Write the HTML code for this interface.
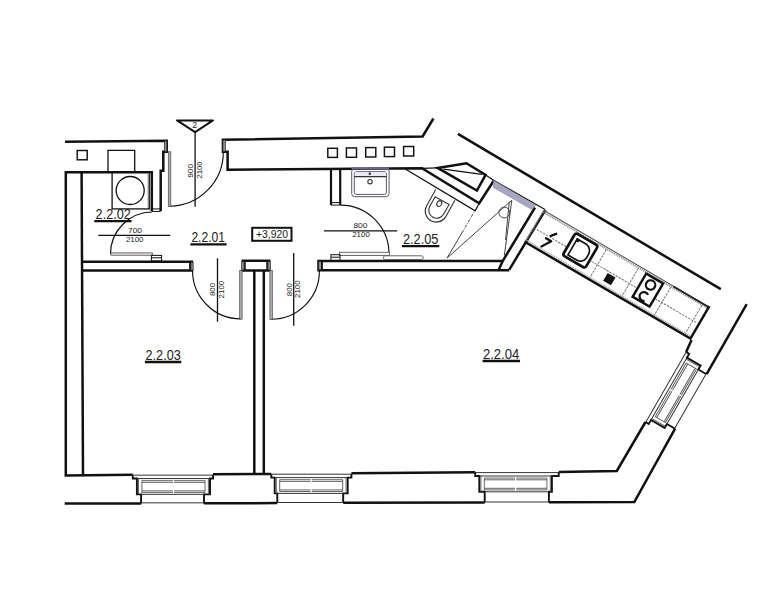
<!DOCTYPE html>
<html><head><meta charset="utf-8"><title>Floor plan</title>
<style>
html,body{margin:0;padding:0;background:#fff;}
body{width:778px;height:599px;overflow:hidden;}
svg{display:block;}
text{font-family:"Liberation Sans",sans-serif;fill:#222;stroke:none;}
</style></head>
<body>
<svg width="778" height="599" viewBox="0 0 778 599">
<rect x="0" y="0" width="778" height="599" fill="#fff"/>
<g fill="none" stroke="#111" stroke-linejoin="miter" stroke-linecap="butt">
<g stroke-width="2.5">
  <path d="M65,141.8 L166.7,140.8 V151.7 H163.3 V170.8 H160.7 V211"/>
    <path d="M81.6,172.2 L83,475"/>
  <path d="M433.4,118.5 L422.6,136.5 L222.9,139.7 V151.7 H227.6 V169.8 L422,168.3 L479.2,203.2 L493.7,180.7"/>
  <path d="M457.9,133.9 L720.8,289.2"/>
  <path d="M746.7,304.2 L706.6,374.1"/>
  <path d="M675.1,428.7 L634.3,502 L548.9,502.3"/>
  <path d="M645.5,422 L616.8,471 L558.7,471.9"/>
  <path d="M686.1,352 L691.5,340"/>
  <path d="M151.8,211 V172.2 H65.8 V475.5 L132.8,474.85"/>
  <path d="M213,474.2 L271.3,473.9"/>
  <path d="M351.4,473.3 L475.2,472.3"/>
  <path d="M64.7,503.6 L141.1,503.45"/>
  <path d="M204,503.3 L277.3,503.1"/>
  <path d="M343.2,502.75 L484.7,502.6"/>
  <path d="M82.5,261.7 H193.1 M82.5,270.6 H193.1"/>
  <path d="M190.2,261.7 V270.6" stroke-width="2.2"/>
  <path d="M241.6,260.8 H270.4 M241.6,270.5 H270.4"/>
  <path d="M244.6,260.8 V270.5 M267.4,260.8 V270.5" stroke-width="2.2"/>
  <path d="M254.3,270.6 V474"/>
  <path d="M263.8,270.6 V474"/>
  <path d="M502.7,261 H318.5 V270.2 H509.2"/>
  <path d="M535,207.5 L502.7,261 L498.7,269.8"/>
  <path d="M545.3,210 L509.2,269.8"/>
  <path d="M437.6,167.9 L466.5,163.3 L485.6,174.9 L476.9,190.5 Z"/>
</g>
<g fill="#999" stroke="#222" stroke-width="0.8">
  <rect x="164.6" y="141" width="2.2" height="10.7"/>
  <rect x="222.9" y="140" width="2.4" height="11.5"/>
  <rect x="190.9" y="262.2" width="2.2" height="8"/>
  <rect x="241.7" y="261.4" width="2.4" height="8.6"/>
  <rect x="267.9" y="261.4" width="2.4" height="8.6"/>
  <rect x="318.7" y="261.5" width="2.8" height="8.3"/>
  <path d="M322,261 V270.2" stroke-width="1.8" fill="none" stroke="#111"/>
</g>
<g stroke-width="1.15">
  <path d="M169.5,206.3 A54.3,54.3 0 0 0 223.3,152"/>
  <path d="M152,212 A42,42 0 0 0 110.5,254"/>
  <path d="M192.5,270.6 A48.3,48.3 0 0 0 240.8,318.9"/>
  <path d="M271.2,319.2 A48.2,48.2 0 0 0 319.4,271"/>
  <path d="M340.4,205.1 A48.5,48.5 0 0 1 389,252.3"/>
</g>
<g stroke-width="0.7" stroke="#444" fill="#b0b0b0">
  <rect x="168.3" y="151.8" width="2.5" height="54.8"/>
  <rect x="110.8" y="252.9" width="41.5" height="2.3" fill="#e8e8e8" stroke="#333"/>
  <rect x="239.7" y="270.6" width="2.4" height="48.5"/>
  <rect x="269.9" y="270.6" width="2.4" height="48.8"/>
  <rect x="339.3" y="252.2" width="50" height="3.2" fill="#f4f4f4" stroke="#333"/>
</g>
<g stroke-width="2.2">
  <path d="M331,169.3 V205.1 M340.2,169.3 V205.1"/>
</g>
<g stroke-width="1">
  <path d="M331,202.6 H340.2 M331,205.1 H340.2"/>
  <path d="M151.8,208.9 H160.7 M151.8,211.4 H160.7"/>
  <rect x="151.4" y="255.4" width="10.2" height="5.6"/>
  <rect x="330.9" y="254.7" width="9.1" height="5.8"/>
  <path d="M151.4,257.8 H161.6 M330.9,257.2 H340"/>
</g>
<g stroke-width="1.3">
  <path d="M195.1,132 V206.7"/>
  <path d="M98.3,235.3 H170.3"/>
  <path d="M217.5,258.3 V321.7"/>
  <path d="M293.7,253 V325.8"/>
  <path d="M323.9,230.8 H397.2"/>
</g>
<g stroke-width="2">
  <path stroke-linejoin="round" d="M177,120.4 H213 L195.1,132.1 Z"/>
  <rect x="252.2" y="227.8" width="39.3" height="13"/>
</g>
<g stroke-width="1.45">
  <rect x="77.2" y="150.5" width="10" height="9.3"/>
  <rect x="327.8" y="148.3" width="9.6" height="9.1"/>
  <rect x="346.4" y="147.9" width="10.1" height="9.4"/>
  <rect x="365.7" y="147.6" width="10.1" height="9.4"/>
  <rect x="384.4" y="147.2" width="10.1" height="9.4"/>
  <rect x="403.6" y="146.5" width="10.1" height="9.5"/>
</g>
<g stroke-width="1.3">
  <path d="M108,172.2 V150.3 H134.7 V172.2"/>
  <rect x="112.1" y="172.2" width="37.2" height="36.7"/>
  <circle cx="130.2" cy="190.5" r="14"/>
</g>
<path stroke="#888" stroke-width="1.5" d="M148.4,173 V208"/>
<g stroke-width="1.2">
  <path d="M405.3,169 L475.2,210.8 L479.2,203.2"/>
  <path d="M422,168.3 L437.6,167.9"/>
  <path d="M443.4,169.1 L482.1,174.3"/>
  <path d="M485.6,174.9 L494,180.6 L545,209.4"/>
</g>
<polygon points="493.5,180.6 535.8,205.2 531.9,209.6 493.5,187.4" fill="#a8a7c2" stroke="#8a88a8" stroke-width="0.6"/>
<g stroke="#444" stroke-width="1">
  <path d="M511.8,200.3 L447,258.1"/>
  <path d="M447,258.1 L462,232.8"/>
  <path d="M462,232.8 L474.5,211.4" stroke-dasharray="3 1.2 0.8 1.2"/>
  <path d="M511.8,200.3 L504.3,255.7"/>
  <path d="M509.3,201.5 L505.5,240"/>
  <circle cx="504.3" cy="212.5" r="5.4"/>
</g>
<!-- sink -->
<g stroke="#5a5a6a" stroke-width="1">
  <rect x="351.7" y="168.3" width="37.4" height="28.4" rx="3"/>
  <rect x="354.3" y="171.7" width="32.1" height="22.7" rx="2" fill="#fff"/>
  <rect x="354.8" y="172.2" width="31.1" height="4.3" fill="#ece8f4" stroke="none"/>
  <path d="M354.3,176.7 H386.4" stroke="#333" stroke-width="1.2"/>
  <circle cx="370" cy="181.7" r="2.2" stroke="#333" stroke-width="1.1"/>
  <path d="M369.8,172.5 V175" stroke="#333" stroke-width="2"/>
</g>
<path d="M351.7,168.6 H389.1" stroke="#6a6890" stroke-width="2"/>
<!-- toilet -->
<g transform="translate(445.05,195.35) rotate(29.2)" stroke="#333" stroke-width="1.1">
  <path d="M-11,-0.5 V18 A11,11 0 0 0 11,18 V-0.5"/>
  <path d="M-8,6 V17 A8,8 0 0 0 8,17 V6 Z"/>
  <ellipse cx="-1" cy="10" rx="2.3" ry="3"/>
</g>
<!-- radiator -->
<rect x="383.3" y="255.8" width="40" height="3.7" rx="1.8" stroke="#666" stroke-width="1"/>
<g transform="translate(544.2,210.3) rotate(30.3)">
  <path d="M0,0.3 H191" stroke="#555" stroke-width="1.1"/>
  <path d="M0,2.1 H191" stroke="#888" stroke-width="1.6" stroke-dasharray="1.2 0.8"/>
  <path d="M150,0.6 H191" stroke="#222" stroke-width="1.8"/>
  <path d="M-0.3,0 V37" stroke="#888" stroke-width="1.6" stroke-dasharray="1.2 0.8"/>
  <path d="M0,34.8 H189" stroke="#999" stroke-width="1.2" stroke-dasharray="1.2 0.8"/>
  <path d="M0,20.3 H189" stroke="#777" stroke-width="1" stroke-dasharray="2.5 1"/>
  <path d="M73.5,2.5 V35 M110.5,2.5 V35 M148,2.5 V35 M184,2.5 V35" stroke="#777" stroke-width="1" stroke-dasharray="2.5 1"/>
  <path d="M-1,37 H191 V-0.5" stroke="#111" stroke-width="2.5"/>
  <rect x="38.5" y="3.6" width="26" height="25.8" rx="2.5" stroke="#111" stroke-width="2.7" fill="#fff"/>
  <path d="M43,8 H53.5 A8,8 0 0 1 60.5,16 V20 A7,7 0 0 1 53.5,26.5 H43 Z" stroke="#111" stroke-width="1.7"/>
  <circle cx="44" cy="9" r="1.8" fill="#111" stroke="none"/>
  <rect x="86.4" y="22" width="9" height="9" fill="#111" stroke="none"/>
  <rect x="120" y="3.2" width="19.6" height="26.8" stroke="#111" stroke-width="2.5" fill="#fff"/>
  <circle cx="129.5" cy="10.8" r="4.7" stroke="#111" stroke-width="2.2"/>
  <path d="M132.3,20.6 A4.4,4.4 0 1 0 132.3,27.6" stroke="#111" stroke-width="2.2"/>
</g>
<path d="M550.8,235.8 L556.2,233.8 M546,238.2 L551.2,241.2 L541.4,246.4" stroke="#111" stroke-width="2.3" stroke-linecap="round" stroke-linejoin="round"/>
<g font-size="14" fill="#2a2a2a">
  <text x="95.6" y="219.2" textLength="35.2" lengthAdjust="spacingAndGlyphs">2.2.02</text>
  <text x="191.4" y="241.5" textLength="33.6" lengthAdjust="spacingAndGlyphs">2.2.01</text>
  <text x="402.9" y="243.8" textLength="35.6" lengthAdjust="spacingAndGlyphs">2.2.05</text>
  <text x="145.6" y="359.6" textLength="35.1" lengthAdjust="spacingAndGlyphs">2.2.03</text>
  <text x="482.9" y="358.7" textLength="36.4" lengthAdjust="spacingAndGlyphs">2.2.04</text>
</g>
<g stroke-width="2.3">
  <path d="M94.3,221.2 H131.6 M190.4,244.3 H226.6 M401.9,246.2 H439.3 M144.9,362 H181.3 M482.6,361 H520"/>
</g>
<g font-size="7.5" fill="#333" text-anchor="middle" lengthAdjust="spacingAndGlyphs">
  <text x="135" y="233.4" textLength="14" lengthAdjust="spacingAndGlyphs">700</text>
  <text x="134.7" y="242.3" textLength="17.6" lengthAdjust="spacingAndGlyphs">2100</text>
  <text x="360.4" y="228" textLength="14" lengthAdjust="spacingAndGlyphs">800</text>
  <text x="361" y="236.9" textLength="17.6" lengthAdjust="spacingAndGlyphs">2100</text>
  <text transform="translate(193.3,170.8) rotate(-90)" textLength="14" lengthAdjust="spacingAndGlyphs">900</text>
  <text transform="translate(202.3,170) rotate(-90)" textLength="17.4" lengthAdjust="spacingAndGlyphs">2100</text>
  <text transform="translate(215.3,289.5) rotate(-90)" textLength="13.2" lengthAdjust="spacingAndGlyphs">800</text>
  <text transform="translate(224.3,289.6) rotate(-90)" textLength="17.6" lengthAdjust="spacingAndGlyphs">2100</text>
  <text transform="translate(292.3,289.6) rotate(-90)" textLength="13.2" lengthAdjust="spacingAndGlyphs">800</text>
  <text transform="translate(300.3,289.2) rotate(-90)" textLength="17.6" lengthAdjust="spacingAndGlyphs">2100</text>
</g>
<text x="256" y="238.2" font-size="10.6" textLength="32" lengthAdjust="spacingAndGlyphs" fill="#222">+3,920</text>
<text x="194.8" y="128" font-size="8.8" text-anchor="middle" fill="#222">2</text>
<g transform="translate(132.8,474.85)"><path stroke-width="1.9" d="M0,0 V3.7 H4.1 V19.5 H8.3 V28.6 M80.2,0 V3.7 H77.2 V19.5 H71.2 V28.6"/><path stroke="#333" stroke-width="1" d="M0,0.3 H80.2 M4.1,3.7 H77.2 M8.3,19.5 H71.2 M8.3,28.0 H71.2"/><path stroke="#555" stroke-width="0.9" d="M5.699999999999999,3.7 V19.5 M75.60000000000001,3.7 V19.5 M9.1,5.8 V17.6 M72.2,5.8 V17.6 M9.1,5.8 H40.05 M41.25,5.8 H72.2 M9.1,7.5 H40.05 M41.25,7.5 H72.2 M9.1,16 H40.05 M41.25,16 H72.2 M9.1,17.6 H40.05 M41.25,17.6 H72.2"/></g><g transform="translate(271.3,473.9)"><path stroke-width="1.9" d="M0,0 V3.7 H3.4 V19.5 H6 V29.2 M80.1,0 V3.7 H76.39999999999999 V19.5 H71.89999999999999 V29.2"/><path stroke="#333" stroke-width="1" d="M0,0.3 H80.1 M3.4,3.7 H76.39999999999999 M6,19.5 H71.89999999999999 M6,28.599999999999998 H71.89999999999999"/><path stroke="#555" stroke-width="0.9" d="M5.0,3.7 V19.5 M74.8,3.7 V19.5 M8.4,5.8 V17.6 M71.39999999999999,5.8 V17.6 M8.4,5.8 H39.3 M40.5,5.8 H71.39999999999999 M8.4,7.5 H39.3 M40.5,7.5 H71.39999999999999 M8.4,16 H39.3 M40.5,16 H71.39999999999999 M8.4,17.6 H39.3 M40.5,17.6 H71.39999999999999"/></g><g transform="translate(475.2,472.3)"><path stroke-width="1.9" d="M0,0 V3.7 H4.1 V19.5 H9.5 V30.3 M83.5,0 V3.7 H76.7 V19.5 H73.7 V30.3"/><path stroke="#333" stroke-width="1" d="M0,0.3 H83.5 M4.1,3.7 H76.7 M9.5,19.5 H73.7 M9.5,29.7 H73.7"/><path stroke="#555" stroke-width="0.9" d="M5.699999999999999,3.7 V19.5 M75.10000000000001,3.7 V19.5 M9.1,5.8 V17.6 M71.7,5.8 V17.6 M9.1,5.8 H39.8 M41.0,5.8 H71.7 M9.1,7.5 H39.8 M41.0,7.5 H71.7 M9.1,16 H39.8 M41.0,16 H71.7 M9.1,17.6 H39.8 M41.0,17.6 H71.7"/></g><g transform="translate(645.5,422) rotate(-60)"><path stroke-width="1.9" d="M0,0 V3.7 H4.5 V19.5 H9 V29 M80.9,0 V3.7 H76.4 V19.5 H71.9 V29"/><path stroke="#333" stroke-width="1" d="M0,0.3 H80.9 M4.5,3.7 H76.4 M9,19.5 H71.9 M9,28.4 H71.9"/><path stroke="#555" stroke-width="0.9" d="M6.1,3.7 V19.5 M74.80000000000001,3.7 V19.5 M9.5,5.8 V17.6 M71.4,5.8 V17.6 M9.5,5.8 H39.85 M41.050000000000004,5.8 H71.4 M9.5,7.5 H39.85 M41.050000000000004,7.5 H71.4 M9.5,16 H39.85 M41.050000000000004,16 H71.4 M9.5,17.6 H39.85 M41.050000000000004,17.6 H71.4"/></g></g>
</svg>
</body></html>
